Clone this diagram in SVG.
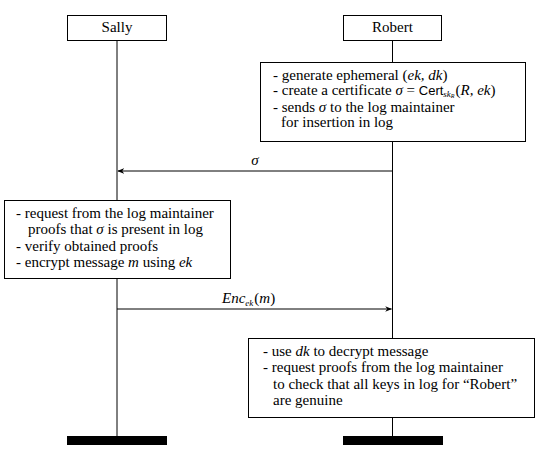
<svg xmlns="http://www.w3.org/2000/svg" width="538" height="452" viewBox="0 0 538 452">
  <style>
    .box { fill: #fff; stroke: #000; stroke-width: 1; }
    .life { stroke: #000; stroke-width: 1; fill: none; }
    .msg { stroke: #000; stroke-width: 1; fill: none; }
    text { font-family: "Liberation Serif", "Times New Roman", "DejaVu Serif", serif; font-size: 15px; fill: #000; }
    .name { text-anchor: middle; font-size: 15px; }
    .it { font-style: italic; }
    .sf { font-family: "Liberation Sans", "DejaVu Sans", sans-serif; font-size: 13px; }
    .sub { font-size: 9px; }
    .bar { fill: #000; }
  </style>
  <defs>
    <marker id="head" viewBox="0 0 10 10" refX="9" refY="5" markerWidth="7" markerHeight="7" orient="auto-start-reverse" markerUnits="userSpaceOnUse">
      <path d="M0,1 L10,5 L0,9 L3,5 Z" fill="#000"/>
    </marker>
  </defs>

  <!-- lifelines and messages -->
  <g id="connectors">
    <line class="life" x1="117" y1="40" x2="117" y2="437"/>
    <line class="life" x1="392.5" y1="40" x2="392.5" y2="437"/>
    <line class="msg" x1="392.5" y1="171" x2="118" y2="171" marker-end="url(#head)"/>
    <text x="255" y="165" class="it" text-anchor="middle">σ</text>
    <line class="msg" x1="117" y1="309" x2="391.5" y2="309" marker-end="url(#head)"/>
    <text x="222" y="303" class="it">Enc<tspan class="sub" dy="3">ek</tspan><tspan dy="-3" dx="1" font-style="normal">(</tspan>m<tspan font-style="normal">)</tspan></text>
  </g>

  <!-- Sally -->
  <g id="sally">
    <rect class="box" x="67.5" y="15.5" width="99" height="25"/>
    <text class="name" x="117" y="32">Sally</text>
    <rect class="bar" x="67" y="436" width="100" height="9"/>
  </g>

  <!-- Robert -->
  <g id="robert">
    <rect class="box" x="343.5" y="15.5" width="98" height="25"/>
    <text class="name" x="392.5" y="32">Robert</text>
    <rect class="bar" x="343" y="436" width="100" height="9"/>
  </g>

  <!-- Robert: key generation and certificate -->
  <g id="robert-setup">
    <rect class="box" x="260.5" y="62.5" width="265" height="79"/>
    <text x="273" y="80">- generate ephemeral (<tspan class="it">ek, dk</tspan>)</text>
    <text x="273" y="95">- create a certificate <tspan class="it">σ</tspan> = <tspan class="sf">Cert</tspan><tspan class="sub it" dy="2">sk<tspan font-size="6" dy="1">R</tspan></tspan><tspan dy="-3" dx="1">(</tspan><tspan class="it">R, ek</tspan>)</text>
    <text x="273" y="112">- sends <tspan class="it">σ</tspan> to the log maintainer</text>
    <text x="281" y="127">for insertion in log</text>
  </g>

  <!-- Sally: verification and encryption -->
  <g id="sally-verify">
    <rect class="box" x="4.5" y="200.5" width="226" height="78"/>
    <text x="16" y="218">- request from the log maintainer</text>
    <text x="28" y="234">proofs that <tspan class="it">σ</tspan> is present in log</text>
    <text x="16" y="251">- verify obtained proofs</text>
    <text x="16" y="267">- encrypt message <tspan class="it">m</tspan> using <tspan class="it">ek</tspan></text>
  </g>

  <!-- Robert: decryption and key audit -->
  <g id="robert-decrypt">
    <rect class="box" x="248.5" y="338.5" width="286" height="79"/>
    <text x="263" y="356">- use <tspan class="it">dk</tspan> to decrypt message</text>
    <text x="263" y="372">- request proofs from the log maintainer</text>
    <text x="273" y="389">to check that all keys in log for “Robert”</text>
    <text x="273" y="405">are genuine</text>
  </g>
</svg>
